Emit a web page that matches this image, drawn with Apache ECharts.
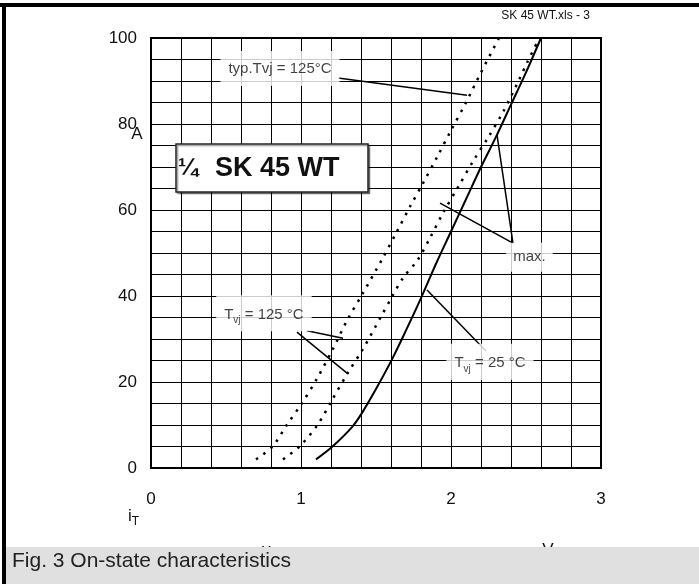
<!DOCTYPE html>
<html><head><meta charset="utf-8">
<script src="https://cdn.jsdelivr.net/npm/echarts@6/dist/echarts.min.js"></script>
<style>html,body{margin:0;padding:0;background:#fff}#c{width:699px;height:584px}</style>
</head><body><div id="c"></div>
<script>
// ---- data (V, A) ----
const xTickLabels = [0, 1, 2, 3];
const yTickLabels = [0, 20, 40, 60, 80, 100];
const typ125 = [[0.70,2],[0.81,5],[0.905,10],[1.005,15],[1.11,21],[1.21,27.5],[1.31,34.5],[1.41,40.5],[1.54,48.5],[1.64,55],[1.73,61],[1.81,66],[1.91,72.5],[2.0,78.5],[2.1,85],[2.2,92],[2.32,100]];
const max125 = [[0.88,2],[0.99,5],[1.11,10],[1.21,16],[1.31,22],[1.41,27.5],[1.53,35],[1.61,40],[1.68,44.2],[1.78,48.5],[1.86,53.5],[1.95,59.5],[2.05,65.5],[2.15,71.5],[2.25,77],[2.35,83],[2.45,90],[2.51,94.5],[2.59,100]];
const max25 = [[1.10,2],[1.21,5],[1.34,9.5],[1.41,13],[1.51,19],[1.61,25.5],[1.70,32],[1.80,39.5],[1.90,47.5],[2.0,55],[2.1,62.5],[2.2,70],[2.3,77],[2.4,84.5],[2.5,92],[2.6,100]];
const leaderLines = [
  [[1.247,90.7],[2.107,86.7]],
  [[2.413,52.3],[2.307,77.4]],
  [[2.413,52.3],[1.927,61.6]],
  [[0.973,31.6],[1.313,21.9]],
  [[1.04,31.9],[1.28,30.2]],
  [[2.233,27.2],[1.84,41.4]]
];
const noteTexts = ['typ.Tvj = 125\u00b0C', '{n|T}{s|vj}{n| = 125 \u00b0C}', '{n|T}{s|vj}{n| = 25 \u00b0C}', 'max.'];
const noteAnchors = [[0.86,92.9],[0.753,36],[2.26,24.7],[2.523,49]];
const titleText = ['\u00bc', 'SK 45 WT'];

const FONT = 'Liberation Sans, Arial, Helvetica, sans-serif';
const chart = echarts.init(document.getElementById('c'), null, {renderer: 'canvas'});

const onTick = (list) => (v) => {
  const r = Math.round(v);
  return (Math.abs(v - r) < 1e-6 && list.indexOf(r) >= 0) ? String(r) : '';
};

const series = [];
series.push({type:'line', data: typ125, symbol:'none', smooth:0.3, z:5,
  lineStyle:{color:'#000', width:2.5, type:[2.5,6.5], cap:'butt'}});
series.push({type:'line', data: max125, symbol:'none', smooth:0.3, z:5,
  lineStyle:{color:'#000', width:2.5, type:[2.5,6.5], cap:'butt'}});
series.push({type:'line', data: max25, symbol:'none', smooth:0.3, z:5,
  lineStyle:{color:'#000', width:2}});
leaderLines.forEach(seg => series.push({type:'line', data: seg, symbol:'none', z:6,
  lineStyle:{color:'#000', width:1.5}}));

const richT = {
  n:{fontSize:15, fontFamily:FONT, color:'#111', lineHeight:18, verticalAlign:'bottom'},
  s:{fontSize:10, fontFamily:FONT, color:'#111', lineHeight:12, verticalAlign:'bottom', padding:[0,0,-3,0]}
};
const paddings = [[10,8],[9,8],[9,8],[7,7]];
series.push({type:'scatter', symbolSize:0, z:7,
  data: noteAnchors.map((p,i)=>({value:p, label:{formatter: noteTexts[i], padding: paddings[i]}})),
  label:{show:true, position:'inside', backgroundColor:'#fff', color:'#111',
    fontSize:15, fontFamily:FONT, rich: richT},
  emphasis:{disabled:true}, silent:true});

const subRich = {i:{fontSize:17, fontFamily:FONT, fill:'#111', verticalAlign:'bottom', lineHeight:18},
                 t:{fontSize:12, fontFamily:FONT, fill:'#111', verticalAlign:'bottom', lineHeight:12, padding:[0,0,-3,0]}};

chart.setOption({
  animation:false,
  backgroundColor:'#fff',
  grid:{left:151, right:98, top:38, bottom:116, show:true, borderColor:'#000', borderWidth:2, backgroundColor:'transparent'},
  xAxis:{type:'value', min:0, max:3, interval:0.2,
    axisLine:{show:false}, axisTick:{show:false},
    splitLine:{show:true, lineStyle:{color:'#000', width:1}},
    axisLabel:{formatter:onTick(xTickLabels), fontSize:17, fontFamily:FONT, color:'#111', margin:23, showMinLabel:true, showMaxLabel:true}},
  yAxis:{type:'value', min:0, max:100, interval:5,
    axisLine:{show:false}, axisTick:{show:false},
    splitLine:{show:true, lineStyle:{color:'#000', width:1}},
    axisLabel:{formatter:onTick(yTickLabels), fontSize:17, fontFamily:FONT, color:'#111', margin:14, showMinLabel:true, showMaxLabel:true}},
  series: series,
  graphic:[
    {type:'rect', z:90, shape:{x:176, y:144, width:192, height:48},
      style:{fill:'#fff', stroke:'#222', lineWidth:1.5, shadowColor:'rgba(0,0,0,0.4)', shadowOffsetX:1.5, shadowOffsetY:1.5, shadowBlur:1}},
    {type:'text', z:91, x:178, y:168, style:{text:titleText[0], fontSize:24, fontWeight:'bold', fontFamily:FONT, fill:'#111', verticalAlign:'middle'}},
    {type:'text', z:91, x:215, y:169, style:{text:titleText[1], fontSize:27, fontWeight:'bold', fontFamily:FONT, fill:'#111', verticalAlign:'middle'}},
    {type:'text', x:590, y:16, z:100, style:{text:'SK 45 WT.xls - 3', fontSize:12, fontFamily:FONT, fill:'#111', align:'right', verticalAlign:'middle'}},
    {type:'text', x:137, y:134, z:100, style:{text:'A', fontSize:17, fontFamily:FONT, fill:'#111', align:'center', verticalAlign:'middle'}},
    {type:'text', x:128, y:516, z:100, style:{text:'{i|i}{t|T}', fontFamily:FONT, fill:'#111', verticalAlign:'middle', rich:subRich}},
    {type:'text', x:262, y:550, z:100, style:{text:'{i|v}{t|T}', fontFamily:FONT, fill:'#111', verticalAlign:'middle', rich:subRich}},
    {type:'text', x:548, y:550, z:100, style:{text:'V', fontSize:17, fontFamily:FONT, fill:'#111', align:'center', verticalAlign:'middle'}},
    {type:'rect', z:110, shape:{x:6, y:547, width:693, height:37}, style:{fill:'#e0e0e0'}},
    {type:'text', z:111, x:12, y:561, style:{text:'Fig. 3 On-state characteristics', fontSize:21, fontFamily:FONT, fill:'#222', verticalAlign:'middle'}},
    {type:'rect', z:120, shape:{x:0, y:3, width:699, height:4}, style:{fill:'#000'}},
    {type:'rect', z:120, shape:{x:2, y:3, width:4, height:581}, style:{fill:'#000'}}
  ]
});
</script></body></html>
